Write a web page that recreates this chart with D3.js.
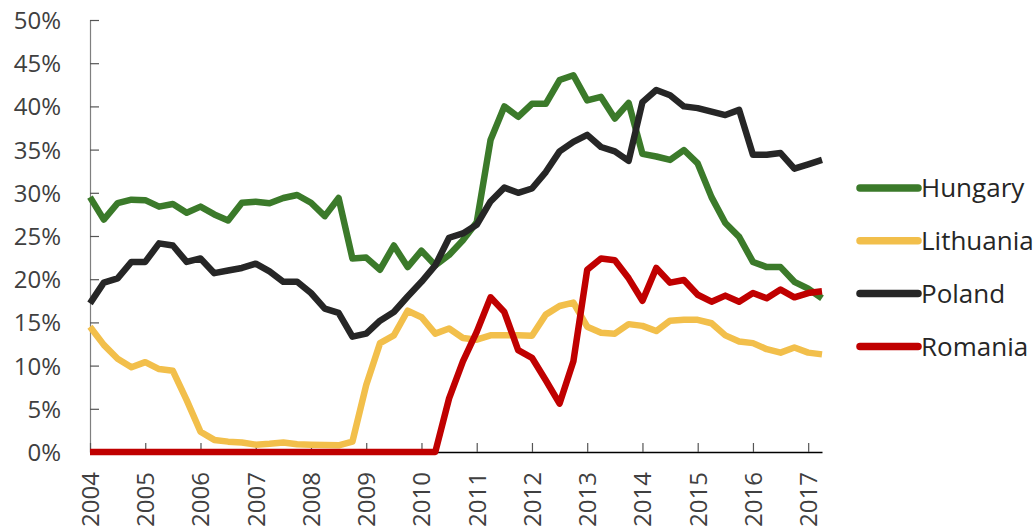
<!DOCTYPE html>
<html>
<head>
<meta charset="utf-8">
<script src="https://cdn.jsdelivr.net/npm/d3@7"></script>
<style>
  html, body { margin: 0; padding: 0; background: #ffffff; }
  svg { display: block; font-family: "Open Sans", "Noto Sans", sans-serif; }
</style>
</head>
<body>
<svg id="chart" width="1035" height="531"></svg>
<script>
// Quarterly observations, 2004 Q1 .. 2017 Q2 (share, %)
const startYear = 2004;
const yearTicks = [2004, 2005, 2006, 2007, 2008, 2009, 2010, 2011, 2012, 2013, 2014, 2015, 2016, 2017];
const yTicks = [0, 5, 10, 15, 20, 25, 30, 35, 40, 45, 50];
const seriesNames = ["Hungary", "Lithuania", "Poland", "Romania"];
const seriesColors = ["#3b7a2a", "#f2bf4b", "#262626", "#c00000"];

const hungary = [
  29.5, 26.9, 28.8, 29.2, 29.15, 28.4, 28.7, 27.7, 28.4, 27.5, 26.8, 28.85, 28.97, 28.8,
  29.4, 29.75, 28.85, 27.3, 29.4, 22.4, 22.5, 21.1, 23.9, 21.4, 23.3, 21.6, 22.8, 24.5,
  26.6, 36.1, 40.0, 38.8, 40.3, 40.3, 43.05, 43.6, 40.7, 41.1, 38.6, 40.4, 34.5, 34.2,
  33.8, 34.95, 33.4, 29.5, 26.5, 24.9, 22.0, 21.4, 21.4, 19.7, 18.9, 17.8
];
const lithuania = [
  14.5, 12.4, 10.8, 9.8, 10.4, 9.6, 9.4, 6.0, 2.35, 1.4, 1.2, 1.1, 0.85, 0.95,
  1.1, 0.9, 0.85, 0.8, 0.77, 1.2, 7.75, 12.6, 13.5, 16.35, 15.6, 13.7, 14.3, 13.2,
  13.0, 13.5, 13.5, 13.5, 13.45, 15.9, 16.9, 17.3, 14.5, 13.8, 13.7, 14.8, 14.6, 14.0,
  15.2, 15.3, 15.3, 14.9, 13.5, 12.8, 12.6, 11.9, 11.5, 12.1, 11.5, 11.3
];
const poland = [
  17.2, 19.6, 20.1, 22.0, 22.0, 24.15, 23.9, 22.0, 22.4, 20.7, 21.0, 21.3, 21.8, 20.9,
  19.7, 19.7, 18.4, 16.6, 16.1, 13.35, 13.7, 15.2, 16.2, 18.0, 19.7, 21.6, 24.8, 25.3,
  26.3, 29.0, 30.6, 30.0, 30.5, 32.4, 34.8, 35.9, 36.7, 35.3, 34.8, 33.7, 40.5, 41.9,
  41.3, 40.0, 39.8, 39.4, 39.0, 39.6, 34.4, 34.4, 34.6, 32.8, 33.3, 33.8
];
const romania = [
  0, 0, 0, 0, 0, 0, 0, 0, 0, 0, 0, 0, 0, 0,
  0, 0, 0, 0, 0, 0, 0, 0, 0, 0, 0, 0, 6.2, 10.5,
  13.9, 17.9, 16.2, 11.8, 10.9, 8.3, 5.6, 10.5, 21.1, 22.4, 22.2, 20.1, 17.5, 21.3,
  19.6, 19.9, 18.2, 17.4, 18.1, 17.4, 18.4, 17.8, 18.8, 17.9, 18.4, 18.6
];
const seriesValues = [hungary, lithuania, poland, romania];

const svg = d3.select("#chart");
const textColor = "#404040";
const fontFamily = '"Open Sans", "Noto Sans", sans-serif';

const x = d3.scaleLinear().domain([startYear, startYear + (hungary.length - 1) / 4]).range([90, 822]);
const y = d3.scaleLinear().domain([0, 50]).range([452, 20]);

// Y axis
const yAxis = d3.axisLeft(y).tickValues(yTicks).tickSize(-9).tickPadding(0).tickFormat(d => d + "%");
const gy = svg.append("g").attr("transform", `translate(${x.range()[0]},0)`).call(yAxis)
  .attr("font-family", fontFamily).attr("font-size", 24);
gy.select(".domain").attr("stroke", "#7f7f7f").attr("stroke-width", 1.2);
gy.selectAll(".tick line").attr("stroke", "#555").attr("stroke-width", 1.2);
gy.selectAll(".tick text")
  .attr("x", -29).attr("dy", "0.35em")
  .attr("fill", textColor).style("font-size", "24px").attr("text-anchor", "end");

// X axis
const xAxis = d3.axisBottom(x).tickValues(yearTicks).tickSize(-9).tickSizeOuter(0).tickFormat(d3.format("d"));
const gx = svg.append("g").attr("transform", `translate(0,${y(0)})`).call(xAxis)
  .attr("font-family", fontFamily).attr("font-size", 24);
gx.select(".domain").attr("stroke", "#000").attr("stroke-width", 1.5);
gx.selectAll(".tick line").attr("stroke", "#555").attr("stroke-width", 1.2);
gx.selectAll(".tick text")
  .attr("transform", "translate(0,20) rotate(-90)")
  .attr("x", 0).attr("y", 0).attr("dy", "0.35em")
  .attr("text-anchor", "end")
  .attr("fill", textColor).style("font-size", "24px");

// Lines
const line = d3.line()
  .x((d, i) => x(startYear + i / 4))
  .y(d => y(d));

seriesValues.forEach((vals, k) => {
  svg.append("path")
    .datum(vals)
    .attr("fill", "none")
    .attr("stroke", seriesColors[k])
    .attr("stroke-width", 6.5)
    .attr("stroke-linejoin", "round")
    .attr("d", line);
});

// Legend
const legend = svg.append("g");
seriesNames.forEach((name, k) => {
  const ly = 188 + k * 52.8;
  legend.append("line")
    .attr("x1", 860).attr("x2", 918).attr("y1", ly).attr("y2", ly)
    .attr("stroke", seriesColors[k]).attr("stroke-width", 7.5).attr("stroke-linecap", "round");
  legend.append("text")
    .attr("x", 921).attr("y", ly).attr("dy", "0.36em")
    .attr("fill", "#262626").style("font-size", "26px")
    .text(name);
});
</script>
</body>
</html>
